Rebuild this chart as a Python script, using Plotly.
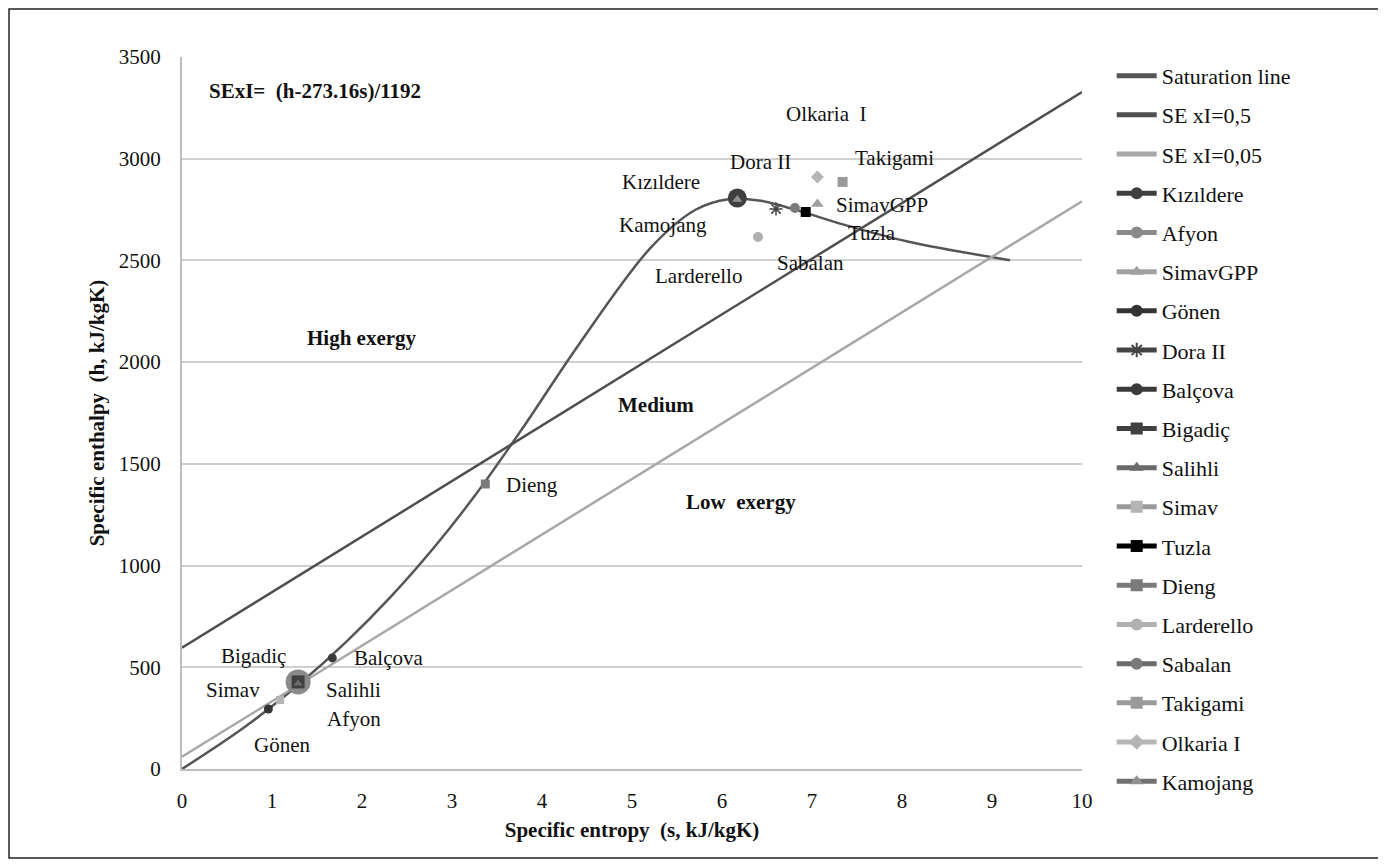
import plotly.graph_objects as go

# ---- data ----
s_sat = [0, 0.704, 1.307, 1.842, 2.331, 2.793, 3.255, 3.778, 4.41, 5.211, 5.706, 6.072, 6.431, 6.838, 7.354, 8.075, 9.2]
h_sat = [0, 209, 419, 632, 852, 1085, 1344, 1671, 2087, 2564, 2749, 2801, 2793, 2746, 2676, 2592, 2501]

s_line = [0, 10]
h_sexi05 = [596, 3328]
h_sexi005 = [60, 2791]

plants = ["Kızıldere", "Afyon", "SimavGPP", "Gönen", "Dora II", "Balçova", "Bigadiç",
          "Salihli", "Simav", "Tuzla", "Dieng", "Larderello", "Sabalan", "Takigami",
          "Olkaria I", "Kamojang"]
legend_names = ["Kızıldere", "Afyon", "SimavGPP", "Gönen", "Dora II", "Balçova", "Bigadiç",
                "Salihli", "Simav", "Tuzla", "Dieng", "Larderello", "Sabalan", "Takigami",
                "Olkaria I", "Kamojang"]
plant_s = [6.17, 1.29, 7.06, 0.96, 6.60, 1.67, 1.29, 1.29, 1.09, 6.93, 3.37, 6.40, 6.81, 7.34, 7.06, 6.17]
plant_h = [2807, 428, 2778, 295, 2753, 546, 428, 420, 339, 2738, 1401, 2615, 2758, 2886, 2910, 2800]

label_text = ["SExI=  (h-273.16s)/1192", "High exergy", "Medium", "Low  exergy",
              "Olkaria  I", "Takigami", "Dora II", "Kızıldere", "SimavGPP", "Tuzla",
              "Kamojang", "Sabalan", "Larderello", "Dieng", "Bigadiç", "Balçova",
              "Simav", "Salihli", "Afyon", "Gönen"]
label_s = [0.28, 2.0, 5.27, 6.21, 7.16, 7.92, 6.43, 5.32, 7.78, 7.67,
           5.34, 6.98, 5.74, 3.89, 0.79, 2.29, 0.57, 1.90, 1.91, 1.11]
label_h = [3335, 2120, 1790, 1313, 3220, 3004, 2984, 2886, 2773, 2635,
           2675, 2488, 2424, 1396, 556, 546, 388, 388, 246, 118]

# ---- styles ----
FONT = "Liberation Serif"
mstyle = {
    "Kızıldere": dict(symbol="circle", color="#3f3f3f", size=19),
    "Afyon": dict(symbol="circle", color="#8a8a8a", size=25),
    "SimavGPP": dict(symbol="triangle-up", color="#a0a0a0", size=11),
    "Gönen": dict(symbol="circle", color="#333333", size=9),
    "Dora II": dict(symbol="asterisk-open", color="#444444", size=11),
    "Balçova": dict(symbol="circle", color="#3a3a3a", size=9),
    "Bigadiç": dict(symbol="square", color="#404040", size=13),
    "Salihli": dict(symbol="triangle-up", color="#6a6a6a", size=8),
    "Simav": dict(symbol="square", color="#b5b5b5", size=8),
    "Tuzla": dict(symbol="square", color="#000000", size=10),
    "Dieng": dict(symbol="square", color="#7a7a7a", size=9),
    "Larderello": dict(symbol="circle", color="#b0b0b0", size=10),
    "Sabalan": dict(symbol="circle", color="#7a7a7a", size=10),
    "Takigami": dict(symbol="square", color="#9a9a9a", size=10),
    "Olkaria I": dict(symbol="diamond", color="#b5b5b5", size=10),
    "Kamojang": dict(symbol="triangle-up", color="#909090", size=9),
}
legend_line_color = {
    "Kızıldere": "#3f3f3f", "Afyon": "#8a8a8a", "SimavGPP": "#a0a0a0", "Gönen": "#333333",
    "Dora II": "#444444", "Balçova": "#3a3a3a", "Bigadiç": "#404040", "Salihli": "#6a6a6a",
    "Simav": "#9a9a9a", "Tuzla": "#000000", "Dieng": "#7a7a7a", "Larderello": "#b0b0b0",
    "Sabalan": "#6a6a6a", "Takigami": "#9a9a9a", "Olkaria I": "#b5b5b5", "Kamojang": "#707070",
}

fig = go.Figure()

fig.add_trace(go.Scatter(x=s_sat, y=h_sat, mode="lines", name="Saturation line",
                         line=dict(color="#555555", width=2.5, shape="spline", smoothing=1.0),
                         legendgroup="g0"))
fig.add_trace(go.Scatter(x=s_line, y=h_sexi05, mode="lines", name="SE xI=0,5",
                         line=dict(color="#4f4f4f", width=2.5), legendgroup="g1"))
fig.add_trace(go.Scatter(x=s_line, y=h_sexi005, mode="lines", name="SE xI=0,05",
                         line=dict(color="#a8a8a8", width=2.5), legendgroup="g2"))

order = ["Afyon", "Kızıldere"] + [p for p in plants if p not in ("Afyon", "Kızıldere")]
legend_rank = {p: i for i, p in enumerate(plants)}
for p in order:
    i = plants.index(p)
    st = mstyle[p]
    fig.add_trace(go.Scatter(
        x=[plant_s[i]], y=[plant_h[i]], mode="lines+markers", name=legend_names[i],
        marker=dict(symbol=st["symbol"], color=st["color"], size=st["size"],
                    line=dict(color=st["color"], width=1.5 if "asterisk" in st["symbol"] else 0)),
        line=dict(color=legend_line_color[p], width=2.5),
        legendgroup="p" + str(i), legendrank=1000 + legend_rank[p],
    ))

for i, t in enumerate(label_text):
    bold = i < 4
    fig.add_annotation(x=label_s[i], y=label_h[i], text=("<b>%s</b>" % t) if bold else t,
                       showarrow=False, xanchor="left" if i == 0 else "center",
                       font=dict(family=FONT, size=21, color="#111111"))

# outer frame
fig.add_shape(type="rect", xref="paper", yref="paper",
              x0=-0.1922, x1=1.3344, y0=-0.125, y1=1.0674,
              line=dict(color="#222222", width=1.5), fillcolor="rgba(0,0,0,0)", layer="below")

fig.update_layout(
    width=1376, height=852,
    margin=dict(l=174, r=302, t=49, b=91),
    paper_bgcolor="white", plot_bgcolor="white",
    font=dict(family=FONT, size=21, color="#111111"),
    showlegend=True,
    legend=dict(x=1.033, y=1.003, xanchor="left", yanchor="top",
                font=dict(family=FONT, size=22, color="#111111"),
                tracegroupgap=7.6, itemwidth=40, itemsizing="constant",
                maxheight=830, bgcolor="rgba(0,0,0,0)"),
    xaxis=dict(range=[0, 10], dtick=1, showgrid=False, zeroline=False,
               showline=True, linecolor="#bdbdbd", linewidth=2,
               ticks="outside", ticklen=12, tickcolor="rgba(0,0,0,0)",
               title=dict(text="<b>Specific entropy  (s, kJ/kgK)</b>", standoff=10,
                          font=dict(family=FONT, size=21)),
               tickfont=dict(family=FONT, size=21)),
    yaxis=dict(range=[0, 3500], dtick=500, showgrid=True, gridcolor="#cfcfcf", gridwidth=1.5,
               zeroline=False, showline=True, linecolor="#bdbdbd", linewidth=2,
               ticks="outside", ticklen=15, tickcolor="rgba(0,0,0,0)",
               title=dict(text="<b>Specific enthalpy  (h, kJ/kgK)</b>", standoff=8,
                          font=dict(family=FONT, size=21)),
               tickfont=dict(family=FONT, size=21)),
)

fig.write_html("out.html")
